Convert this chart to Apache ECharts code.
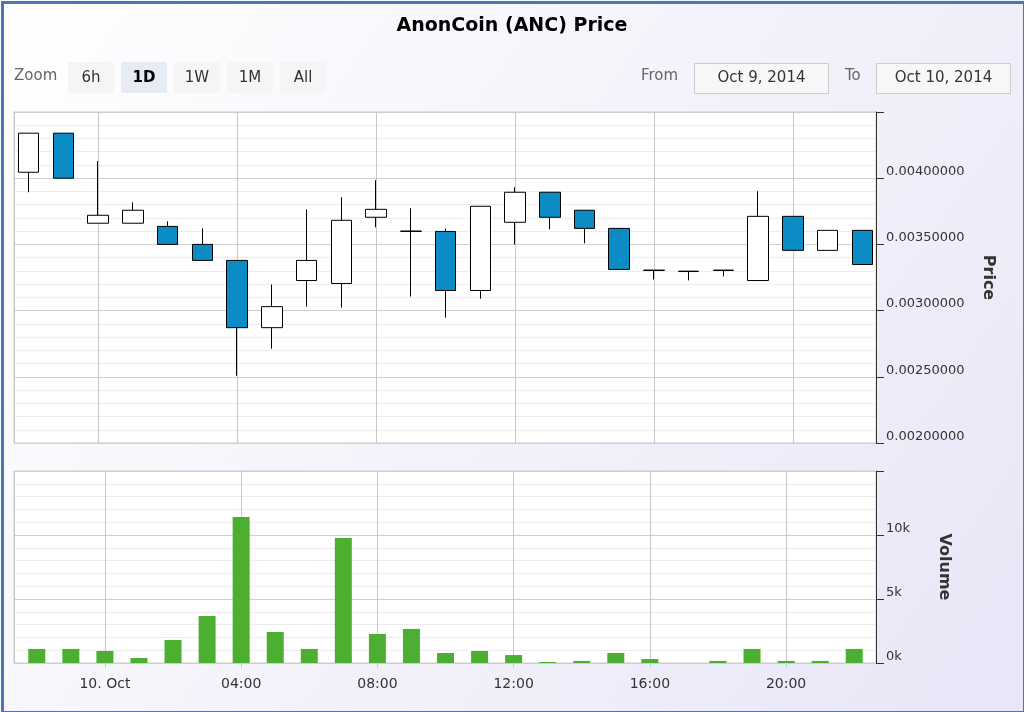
<!DOCTYPE html>
<html><head><meta charset="utf-8">
<script src="https://cdn.jsdelivr.net/npm/echarts@6/dist/echarts.min.js"></script>
<style>html,body{margin:0;padding:0;}#c{width:1024px;height:712px;}</style>
</head><body><div id="c"></div>
<script>
// hours relative to 10 Oct 00:00
var hours = [-2,-1,0,1,2,3,4,5,6,7,8,9,10,11,12,13,14,15,16,17,18,19,20,21,22];
// [open, close, low, high]
var ohlc = [
  [0.004045,0.00434,0.003894,0.00434],
  [0.00434,0.004,0.004,0.00434],
  [0.00366,0.00372,0.00366,0.00413],
  [0.00366,0.003758,0.00366,0.003818],
  [0.003636,0.0035,0.0035,0.003674],
  [0.0035,0.003379,0.003379,0.003621],
  [0.003379,0.002871,0.002508,0.003379],
  [0.002871,0.00303,0.002712,0.003197],
  [0.003227,0.003379,0.00303,0.003765],
  [0.003205,0.003682,0.003023,0.003856],
  [0.003705,0.003765,0.003629,0.003985],
  [0.003598,0.003601,0.003106,0.003773],
  [0.003598,0.003152,0.002947,0.003621],
  [0.003152,0.003788,0.003091,0.003788],
  [0.003667,0.003894,0.0035,0.003932],
  [0.003894,0.003705,0.003614,0.003894],
  [0.003758,0.003621,0.003508,0.003758],
  [0.003621,0.003311,0.003311,0.003621],
  [0.003303,0.003306,0.003235,0.003306],
  [0.003295,0.003298,0.003228,0.003298],
  [0.003303,0.003306,0.003258,0.003306],
  [0.003227,0.003712,0.003227,0.003902],
  [0.003712,0.003455,0.003455,0.003712],
  [0.003455,0.003606,0.003455,0.003606],
  [0.003606,0.003348,0.003348,0.003606]
];
var volume = [1100,1100,940,390,1800,3670,11400,2420,1100,9770,2270,2660,780,940,620,80,160,780,310,0,160,1100,160,160,1100];
var priceTicks = [0.002,0.0025,0.003,0.0035,0.004];
var volTicks = ['0k','5k','10k'];

var H = 3600 * 1000;
var base = new Date(2014, 9, 10, 0, 0, 0).getTime();
var xMin = base - 2.42 * H, xMax = base + 22.39 * H;
var candleData = hours.map(function (h, i) { return [base + h * H].concat(ohlc[i]); });
var volData = hours.map(function (h, i) { return [base + h * H, volume[i]]; });

var chart = echarts.init(document.getElementById('c'));
var font = 'DejaVu Sans';
function xAxis(idx, show) {
  return {
    type: 'time', gridIndex: idx, min: xMin, max: xMax, containShape: false,
    minInterval: 4 * H, maxInterval: 4 * H,
    axisLine: { show: show, lineStyle: { color: '#c0d0e0' } },
    axisTick: { show: show, lineStyle: { color: '#c0d0e0' } },
    axisLabel: {
      show: show, color: '#333', fontFamily: font, fontSize: 14, margin: 14,
      formatter: function (v) {
        var d = new Date(v);
        return d.getHours() === 0 ? '10. Oct' : (d.getHours() < 10 ? '0' : '') + d.getHours() + ':00';
      }
    },
    splitLine: { show: true, lineStyle: { color: '#c8c8c8', width: 1 } }
  };
}
chart.setOption({
  backgroundColor: new echarts.graphic.LinearGradient(0, 0, 1, 1, [
    { offset: 0, color: '#ffffff' }, { offset: 1, color: '#e8e6f7' }]),
  animation: false,
  textStyle: { fontFamily: font },
  title: { text: 'AnonCoin (ANC) Price', left: 'center', top: 12,
    textStyle: { fontSize: 19, fontWeight: 'bold', color: '#000', fontFamily: font } },
  grid: [
    { left: 14, right: 148, top: 112, height: 331, show: true, backgroundColor: '#fff', borderColor: '#ccc' },
    { left: 14, right: 148, top: 471, height: 192, show: true, backgroundColor: '#fff', borderColor: '#ccc' }
  ],
  xAxis: [xAxis(0, false), xAxis(1, true)],
  yAxis: [
    { type: 'value', gridIndex: 0, position: 'right', min: 0.002, max: 0.0045, interval: 0.0005,
      name: 'Price', nameLocation: 'middle', nameGap: 104, nameRotate: -90,
      nameTextStyle: { fontSize: 16, fontWeight: 'bold', color: '#333' },
      axisLine: { show: true, lineStyle: { color: '#333' } },
      axisTick: { show: true, inside: false, length: 8, lineStyle: { color: '#333' } },
      axisLabel: { color: '#333', fontSize: 13, margin: 10, verticalAlign: 'bottom',
        formatter: function (v) { return priceTicks.indexOf(+v.toFixed(4)) >= 0 ? v.toFixed(8) : ''; } },
      splitLine: { lineStyle: { color: '#cfcfcf' } },
      minorTick: { show: false, splitNumber: 5 },
      minorSplitLine: { show: true, lineStyle: { color: '#ececec' } } },
    { type: 'value', gridIndex: 1, position: 'right', min: 0, max: 15000, interval: 5000,
      name: 'Volume', nameLocation: 'middle', nameGap: 60, nameRotate: -90,
      nameTextStyle: { fontSize: 16, fontWeight: 'bold', color: '#333' },
      axisLine: { show: true, lineStyle: { color: '#333' } },
      axisTick: { show: true, length: 8, lineStyle: { color: '#333' } },
      axisLabel: { color: '#333', fontSize: 13, margin: 10, verticalAlign: 'bottom',
        formatter: function (v) { var k = v / 1000; return k <= 10 ? volTicks[k / 5] : ''; } },
      splitLine: { lineStyle: { color: '#cfcfcf' } },
      minorTick: { show: false, splitNumber: 5 },
      minorSplitLine: { show: true, lineStyle: { color: '#ececec' } } }
  ],
  series: [
    { type: 'candlestick', xAxisIndex: 0, yAxisIndex: 0, data: candleData, barWidth: 21,
      itemStyle: { color: '#ffffff', color0: '#0c8cc4', borderColor: '#000', borderColor0: '#000', borderWidth: 1 } },
    { type: 'bar', xAxisIndex: 1, yAxisIndex: 1, data: volData, barWidth: 17,
      itemStyle: { color: '#4caf32' } }
  ],
  graphic: [
    { type: 'rect', left: 0, top: 0, shape: { width: 1022, height: 710 }, style: { fill: 'none', stroke: '#4b78b5', lineWidth: 3 } },
    { type: 'text', left: 14, top: 69, style: { text: 'Zoom', fill: '#666', fontSize: 15, fontFamily: font } }
  ].concat(['6h', '1D', '1W', '1M', 'All'].map(function (t, i) {
    var x = 68 + i * 53;
    return { type: 'group', left: x, top: 62, children: [
      { type: 'rect', shape: { width: 46, height: 31, r: 2 }, style: { fill: i === 1 ? '#e6ebf5' : '#f5f5f5' } },
      { type: 'text', style: { text: t, x: 23, y: 16, align: 'center', verticalAlign: 'middle',
        fill: i === 1 ? '#000' : '#333', fontSize: 15, fontWeight: i === 1 ? 'bold' : 'normal', fontFamily: font } }
    ] };
  })).concat([
    { type: 'text', left: 641, top: 69, style: { text: 'From', fill: '#666', fontSize: 15, fontFamily: font } },
    { type: 'group', left: 694, top: 63, children: [
      { type: 'rect', shape: { width: 134, height: 30 }, style: { fill: '#f7f7f7', stroke: '#ccc' } },
      { type: 'text', style: { text: 'Oct 9, 2014', x: 67, y: 15, align: 'center', verticalAlign: 'middle', fill: '#333', fontSize: 15, fontFamily: font } }
    ] },
    { type: 'text', left: 845, top: 69, style: { text: 'To', fill: '#666', fontSize: 15, fontFamily: font } },
    { type: 'group', left: 876, top: 63, children: [
      { type: 'rect', shape: { width: 134, height: 30 }, style: { fill: '#f7f7f7', stroke: '#ccc' } },
      { type: 'text', style: { text: 'Oct 10, 2014', x: 67, y: 15, align: 'center', verticalAlign: 'middle', fill: '#333', fontSize: 15, fontFamily: font } }
    ] }
  ])
});
</script></body></html>
